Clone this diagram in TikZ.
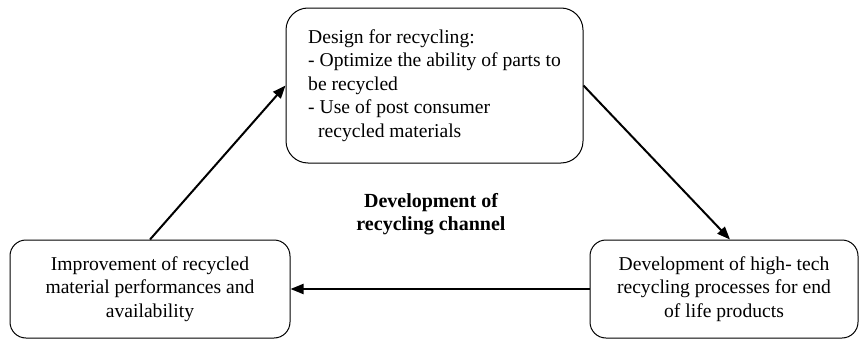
\documentclass[tikz,border=0pt]{standalone}
\usepackage{fontspec}
\setmainfont{Liberation Serif}
\usetikzlibrary{arrows.meta}
\begin{document}
\begin{tikzpicture}[x=1pt,y=-1pt,
  box/.style={draw, line width=1pt, rounded corners=22pt, inner sep=0pt},
  txt/.style={font=\fontsize{19.6}{23.5}\selectfont},
  conn/.style={line width=2pt, -{Triangle[length=13pt,width=10pt]}}]
\useasboundingbox (0,0) rectangle (860,340);
\node[box, minimum width=297pt, minimum height=155pt, txt, align=left] (tb) at (434.5,85.5)
 {Design for recycling:\\- Optimize the ability of parts to\\be recycled\\- Use of post consumer\\\hspace*{10pt}recycled materials};
\node[box, rounded corners=16pt, minimum width=280pt, minimum height=98pt, txt, align=center] (lb) at (150,289)
 {Improvement of recycled\\material performances and\\availability};
\node[box, rounded corners=16pt, minimum width=268pt, minimum height=98pt, txt, align=center] (rb) at (724,289)
 {Development of high- tech\\recycling processes for end\\of life products};
\node[txt, font=\fontsize{20}{23.5}\selectfont\bfseries, align=center] (cl) at (431,214)
 {Development of\\recycling channel};
\draw[conn] (lb.north) -- (tb.west);
\draw[conn] (tb.east) -- ([xshift=6pt]rb.north);
\draw[conn] (rb.west) -- (lb.east);
\end{tikzpicture}
\end{document}
